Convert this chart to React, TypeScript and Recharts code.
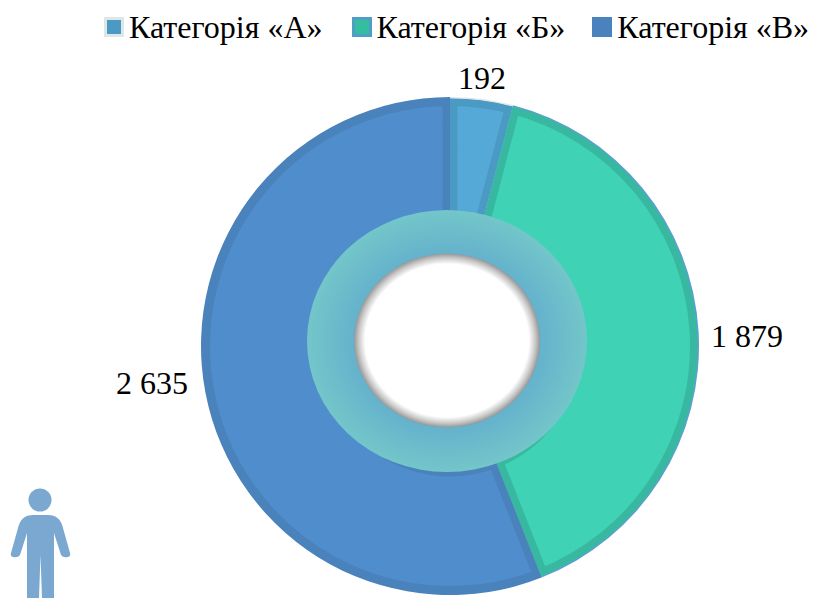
import { Cell, Legend, Pie, PieChart, Sector } from "recharts"

const categories = ["Категорія «А»", "Категорія «Б»", "Категорія «В»"]
const values = [192, 1879, 2635]

const FILLS = ["#55a9d6", "#3fd2b4", "#4f8dcd"]
const STROKES = ["#4b9ac4", "#38b8a0", "#4a82bb"]
const EDGES = ["#e0e6e6", "#5a9fd0", "#4a82bb"]
const SWATCH_FILLS = ["#4b9ac4", "#35bd9f", "#4a82bd"]
const SWATCH_BORDERS = ["#dfe6e6", "#4f9fc5", "#4a82bd"]

const FONT = "'Liberation Serif', serif"
const CX = 450
const CY = 346
const LEGEND_HEIGHT = 34 // the legend takes this much off the plot area

// hand placed label anchors, relative to the pie centre
const LABEL_OFFSETS = [
  { dx: 32, dy: -268 },
  { dx: 297, dy: -10 },
  { dx: -298, dy: 37 },
]

const data = categories.map((name, i) => ({ name, value: values[i] }))

const formatValue = (v: number) => v.toString().replace(/\B(?=(\d{3})+$)/g, " ")

// svg strokes are centred, clipping the sector to itself leaves only the inner half
function InsetSector(props: any) {
  const id = `inset-${Math.round(props.startAngle)}`
  return (
    <g>
      <clipPath id={id}>
        <Sector
          cx={props.cx}
          cy={props.cy}
          innerRadius={props.innerRadius}
          outerRadius={props.outerRadius}
          startAngle={props.startAngle}
          endAngle={props.endAngle}
        />
      </clipPath>
      <Sector {...props} strokeWidth={15} clipPath={`url(#${id})`} />
    </g>
  )
}

function renderLabel({ index, value }: any) {
  const offset = LABEL_OFFSETS[index]
  return (
    <text
      x={CX + offset.dx}
      y={CY + offset.dy}
      textAnchor="middle"
      dominantBaseline="central"
      fontFamily={FONT}
      fontSize={32}
      fill="#000"
    >
      {formatValue(value)}
    </text>
  )
}

function renderLegend() {
  return (
    <div style={{ display: "flex", fontFamily: FONT, fontSize: 32, color: "#000", lineHeight: "34px" }}>
      {categories.map((name, i) => (
        <div key={name} style={{ display: "flex", alignItems: "center", marginRight: i === 0 ? 29 : 27 }}>
          <span
            style={{
              width: 14,
              height: 14,
              marginRight: 5,
              background: SWATCH_FILLS[i],
              border: `3px solid ${SWATCH_BORDERS[i]}`,
            }}
          />
          <span style={{ whiteSpace: "nowrap" }}>{name}</span>
        </div>
      ))}
    </div>
  )
}

export default function App() {
  return (
    <div style={{ position: "absolute", left: 0, top: 0, width: 813, height: 598, background: "#fff", overflow: "hidden" }}>
      <PieChart width={813} height={598} margin={{ top: 0, right: 0, bottom: 0, left: 0 }}>
        <Pie
          data={data}
          dataKey="value"
          nameKey="name"
          cx={CX}
          cy={CY - LEGEND_HEIGHT}
          startAngle={90}
          endAngle={-270}
          innerRadius={122}
          outerRadius={249}
          stroke="none"
          legendType="none"
          label={false}
          isAnimationActive={false}
        >
          {data.map((entry, i) => (
            <Cell key={`edge-${entry.name}`} fill={EDGES[i]} />
          ))}
        </Pie>
        <Pie
          data={data}
          dataKey="value"
          nameKey="name"
          cx={CX}
          cy={CY - LEGEND_HEIGHT}
          startAngle={90}
          endAngle={-270}
          innerRadius={123}
          outerRadius={247.5}
          shape={InsetSector}
          label={renderLabel}
          labelLine={false}
          isAnimationActive={false}
        >
          {data.map((entry, i) => (
            <Cell key={entry.name} fill={FILLS[i]} stroke={STROKES[i]} />
          ))}
        </Pie>
        <Legend
          content={renderLegend}
          layout="horizontal"
          align="left"
          verticalAlign="top"
          wrapperStyle={{ left: 104, top: 10, width: 709 }}
        />
      </PieChart>
      {/* pies paint over chart children, so the centre ring and the figure sit in their own svg */}
      <svg width={813} height={598} style={{ position: "absolute", left: 0, top: 0, pointerEvents: "none" }}>
        <defs>
          <radialGradient id="ringFill" cx="50%" cy="50%" r="50%">
            <stop offset="60%" stopColor="#62aecd" />
            <stop offset="100%" stopColor="#73c6c9" />
          </radialGradient>
          <radialGradient id="holeFill" cx="50%" cy="50%" r="50%">
            <stop offset="88%" stopColor="#ffffff" />
            <stop offset="95%" stopColor="#c8c8c8" />
            <stop offset="100%" stopColor="#979797" />
          </radialGradient>
        </defs>
        <ellipse cx={447} cy={341} rx={140} ry={131} fill="url(#ringFill)" />
        <ellipse cx={447} cy={340.5} rx={93} ry={87} fill="url(#holeFill)" />
        <g fill="#7ba8d1">
          <circle cx={40} cy={500} r={11.5} />
          <path d="M27 598 L27 533 L20 555 Q18 558 13 557 Q10 556 11 553 L18 528 Q21 515 33 515 L48 515 Q60 515 63 528 L70 553 Q71 556 68 557 Q63 558 61 555 L54 533 L54 598 L42 598 L40.5 555 L39 598 Z" />
        </g>
      </svg>
    </div>
  )
}
